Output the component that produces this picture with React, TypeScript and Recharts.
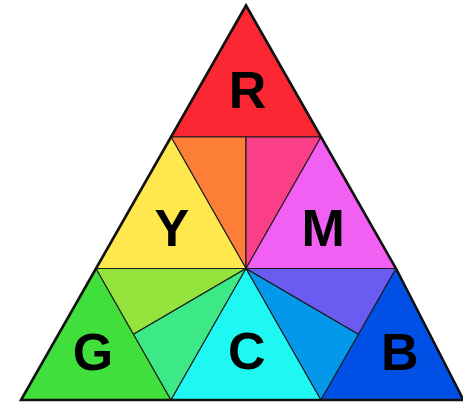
import { ScatterChart, Scatter, XAxis, YAxis } from 'recharts'

// triangle grid units: base runs x 0..6, rows at y = 1, 2, apex at y = 3
const regionNames = ['R', 'orange', 'pink', 'Y', 'M', 'G', 'yellowGreen', 'teal', 'C', 'azure', 'violet', 'B']
const regionColors = ['#fb2834', '#fd7f37', '#fb3e88', '#fee84e', '#f25ff3', '#41df3b', '#95e43e', '#3de886', '#1ff8f2', '#0498ea', '#6c5bf0', '#0150e6']
const regionVertices: number[][][] = [
  [[3, 3], [2, 2], [4, 2]],
  [[2, 2], [3, 2], [3, 1]],
  [[3, 2], [4, 2], [3, 1]],
  [[2, 2], [1, 1], [3, 1]],
  [[4, 2], [5, 1], [3, 1]],
  [[1, 1], [0, 0], [2, 0]],
  [[1, 1], [3, 1], [1.5, 0.5]],
  [[1.5, 0.5], [3, 1], [2, 0]],
  [[3, 1], [2, 0], [4, 0]],
  [[3, 1], [4, 0], [4.5, 0.5]],
  [[3, 1], [5, 1], [4.5, 0.5]],
  [[5, 1], [4, 0], [5.9, 0]]
]
// outer border, right side bends a little at the bottom row
const outline = [[3, 3], [0, 0], [5.9, 0], [5, 1], [4, 2]]

const labelText = ['R', 'Y', 'M', 'G', 'C', 'B']
const labelX = [3.02, 2.01, 4.03, 0.96, 3.01, 5.05]
const labelY = [2.36, 1.31, 1.31, 0.37, 0.38, 0.37]

const FONT = 52

const toPoints = (v: number[][]) => v.map(([x, y]) => ({ x, y }))
const polyString = (pts: { x: number; y: number }[]) => pts.map((p) => `${p.x},${p.y}`).join(' ')
const noMark = () => <g />

const App = () => {
  const labels = labelText.map((t, i) => ({ x: labelX[i], y: labelY[i], t }))
  return (
    <div style={{ position: 'absolute', left: 0, top: 0, background: '#fff' }}>
      <ScatterChart width={463} height={403} margin={{ top: 0, right: 0, bottom: 0, left: 0 }}>
        <XAxis type='number' dataKey='x' domain={[-0.28, 5.893]} allowDataOverflow hide />
        <YAxis type='number' dataKey='y' domain={[-0.0228, 3.0418]} allowDataOverflow hide />
        {regionVertices.map((v, i) => (
          <Scatter
            key={regionNames[i]}
            name={regionNames[i]}
            data={toPoints(v)}
            isAnimationActive={false}
            shape={noMark}
            line={(p: any) => (
              <polygon points={polyString(p.points)} fill={regionColors[i]} stroke='#1a1a1a' strokeWidth={1.1} strokeLinejoin='round' />
            )}
          />
        ))}
        <Scatter
          name='outline'
          data={toPoints(outline)}
          isAnimationActive={false}
          shape={noMark}
          line={(p: any) => (
            <polygon points={polyString(p.points)} fill='none' stroke='#111' strokeWidth={2.6} strokeLinejoin='miter' />
          )}
        />
        <Scatter
          name='labels'
          data={labels}
          isAnimationActive={false}
          shape={(p: any) => (
            <text x={p.cx} y={p.cy + FONT * 0.36} textAnchor='middle' fontFamily='Liberation Sans, sans-serif' fontWeight='bold' fontSize={FONT} fill='#000'>
              {p.payload.t}
            </text>
          )}
        />
      </ScatterChart>
    </div>
  )
}

export default App
